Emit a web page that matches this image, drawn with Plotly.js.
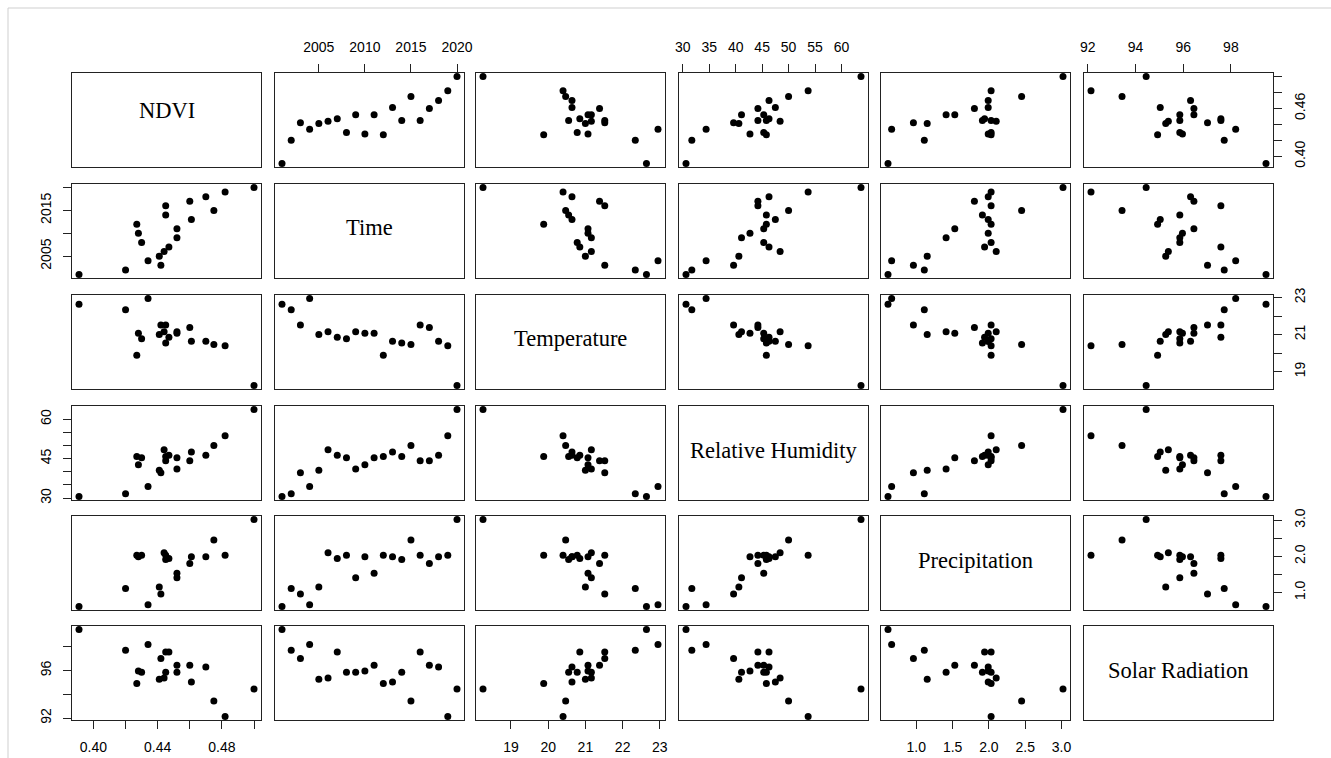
<!DOCTYPE html>
<html>
<head>
<meta charset="utf-8">
<script src="https://cdn.plot.ly/plotly-3.0.1.min.js"></script>
<style>html,body{margin:0;padding:0;background:#fff;}#chart{width:1331px;height:758px;}</style>
</head>
<body>
<div id="chart"></div>
<script>
// ---- data (one observation per year) ----
const years  = [2001,2002,2003,2004,2005,2006,2007,2008,2009,2010,2011,2012,2013,2014,2015,2016,2017,2018,2019,2020];
const ndvi   = [0.391,0.420,0.442,0.434,0.441,0.444,0.447,0.430,0.452,0.428,0.452,0.427,0.461,0.445,0.475,0.445,0.460,0.470,0.482,0.500];
const temperature = [22.64,22.34,21.52,22.95,21.00,21.16,20.85,20.78,21.16,21.07,21.07,19.88,20.64,20.55,20.47,21.52,21.38,20.64,20.40,18.25];
const humidity = [30.6,31.7,39.6,34.4,40.6,48.4,46.3,45.3,41.1,42.7,45.3,45.8,47.5,45.8,50.0,44.2,44.2,46.3,53.7,63.7];
const precipitation = [0.61,1.11,0.96,0.66,1.15,2.10,1.94,2.03,1.41,1.99,1.53,2.03,1.99,1.91,2.45,2.03,1.80,1.99,2.03,3.02];
const solar  = [99.47,97.72,97.02,98.20,95.27,95.38,97.58,95.86,95.86,95.97,96.45,94.93,95.04,95.86,93.44,97.58,96.45,96.31,92.14,94.45];

const varNames = ["NDVI","Time","Temperature","Relative Humidity","Precipitation","Solar Radiation"];

// tick values and labels (horizontal side / vertical side)
const ndviTicks = [0.40,0.42,0.44,0.46,0.48,0.50];
const ndviLabH  = ["0.40","","0.44","","0.48",""];
const ndviLabV  = ["0.40","","","0.46","",""];
const timeTicks = [2005,2010,2015,2020];
const timeLabH  = ["2005","2010","2015","2020"];
const timeLabV  = ["2005","","2015",""];
const tempTicks = [19,20,21,22,23];
const tempLabH  = ["19","20","21","22","23"];
const tempLabV  = ["19","","21","","23"];
const rhTicks   = [30,35,40,45,50,55,60];
const rhLabH    = ["30","35","40","45","50","55","60"];
const rhLabV    = ["30","","","45","","","60"];
const prTicks   = [1.0,1.5,2.0,2.5,3.0];
const prLabH    = ["1.0","1.5","2.0","2.5","3.0"];
const prLabV    = ["1.0","","2.0","","3.0"];
const soTicks   = [92,94,96,98];
const soLabH    = ["92","94","96","98"];
const soLabV    = ["92","","96",""];

const vars = [
  {v: ndvi, t: ndviTicks, h: ndviLabH, s: ndviLabV},
  {v: years, t: timeTicks, h: timeLabH, s: timeLabV},
  {v: temperature, t: tempTicks, h: tempLabH, s: tempLabV},
  {v: humidity, t: rhTicks, h: rhLabH, s: rhLabV},
  {v: precipitation, t: prTicks, h: prLabH, s: prLabV},
  {v: solar, t: soTicks, h: soLabH, s: soLabV}
];

// ---- layout geometry (pixels) ----
const W = 1331, H = 758;
const colX0 = [72, 275, 476, 679, 881, 1084], colW = 189;
const rowY0 = [73, 184, 295, 406, 516, 626], rowH = 94;
const labelShift = [10, 3, 4, 3, 3, 3];

function padRange(a){
  const mn = Math.min(...a), mx = Math.max(...a), r = mx - mn;
  return [mn - 0.04*r, mx + 0.04*r];
}

const tickFont = {family: "Liberation Sans, Arial, sans-serif", size: 14, color: "#000"};
const lineCol = "#222";

const layout = {
  width: W, height: H,
  margin: {l:0, r:0, t:0, b:0},
  paper_bgcolor: "#fff", plot_bgcolor: "#fff",
  showlegend: false,
  annotations: [],
  shapes: [
    {type:"line", xref:"paper", yref:"paper", x0: 8/W, x1: 1, y0: 1-8/H, y1: 1-8/H, line:{color:"#cfcfcf", width:1}},
    {type:"line", xref:"paper", yref:"paper", x0: 8/W, x1: 8/W, y0: 0, y1: 1-8/H, line:{color:"#cfcfcf", width:1}}
  ]
};
const traces = [];

for (let i = 0; i < 6; i++) {
  for (let j = 0; j < 6; j++) {
    const n = i*6 + j + 1;
    const xa = "xaxis" + (n === 1 ? "" : n);
    const ya = "yaxis" + (n === 1 ? "" : n);
    const xid = "x" + (n === 1 ? "" : n);
    const yid = "y" + (n === 1 ? "" : n);
    const xd = [colX0[j]/W, (colX0[j]+colW)/W];
    const yd = [1 - (rowY0[i]+rowH)/H, 1 - rowY0[i]/H];
    const diag = (i === j);

    const xAx = {
      domain: xd, anchor: yid,
      range: diag ? [0,1] : padRange(vars[j].v),
      showline: true, mirror: true, linecolor: lineCol, linewidth: 1,
      showgrid: false, zeroline: false,
      ticks: "", showticklabels: false, fixedrange: true
    };
    const yAx = {
      domain: yd, anchor: xid,
      range: diag ? [0,1] : padRange(vars[i].v),
      showline: true, mirror: true, linecolor: lineCol, linewidth: 1,
      showgrid: false, zeroline: false,
      ticks: "", showticklabels: false, fixedrange: true
    };
    if (!diag) {
      if (i === 0 && j % 2 === 1) {
        Object.assign(xAx, {side: "top", ticks: "outside", ticklen: 8, tickwidth: 1, tickcolor: lineCol,
          showticklabels: true, tickmode: "array", tickvals: vars[j].t, ticktext: vars[j].h,
          tickfont: tickFont, ticklabelstandoff: 6});
      }
      if (i === 5 && j % 2 === 0) {
        Object.assign(xAx, {side: "bottom", ticks: "outside", ticklen: 8, tickwidth: 1, tickcolor: lineCol,
          showticklabels: true, tickmode: "array", tickvals: vars[j].t, ticktext: vars[j].h,
          tickfont: tickFont, ticklabelstandoff: 6});
      }
      if (j === 0 && i % 2 === 1) {
        Object.assign(yAx, {side: "left", ticks: "outside", ticklen: 8, tickwidth: 1, tickcolor: lineCol,
          showticklabels: true, tickmode: "array", tickvals: vars[i].t, ticktext: vars[i].s,
          tickfont: tickFont, tickangle: -90, ticklabelstandoff: 6});
      }
      if (j === 5 && i % 2 === 0) {
        Object.assign(yAx, {side: "right", ticks: "outside", ticklen: 8, tickwidth: 1, tickcolor: lineCol,
          showticklabels: true, tickmode: "array", tickvals: vars[i].t, ticktext: vars[i].s,
          tickfont: tickFont, tickangle: -90, ticklabelstandoff: 6});
      }
      traces.push({
        type: "scatter", mode: "markers",
        x: vars[j].v, y: vars[i].v,
        xaxis: xid, yaxis: yid,
        marker: {color: "#000", size: 7},
        cliponaxis: false, hoverinfo: "skip"
      });
    } else {
      // empty placeholder so the diagonal panel (frame) is created
      traces.push({
        type: "scatter", mode: "markers", x: [null], y: [null],
        xaxis: xid, yaxis: yid, hoverinfo: "skip", marker: {opacity: 0}
      });
      layout.annotations.push({
        text: varNames[i], xref: xid + " domain", yref: yid + " domain",
        x: 0.5, y: 0.5, xanchor: "center", yanchor: "middle", showarrow: false,
        yshift: labelShift[i],
        font: {family: "Liberation Serif, Times New Roman, serif", size: 22.5, color: "#000"}
      });
    }
    layout[xa] = xAx;
    layout[ya] = yAx;
  }
}

Plotly.newPlot("chart", traces, layout, {staticPlot: true, displayModeBar: false});
</script>
</body>
</html>
